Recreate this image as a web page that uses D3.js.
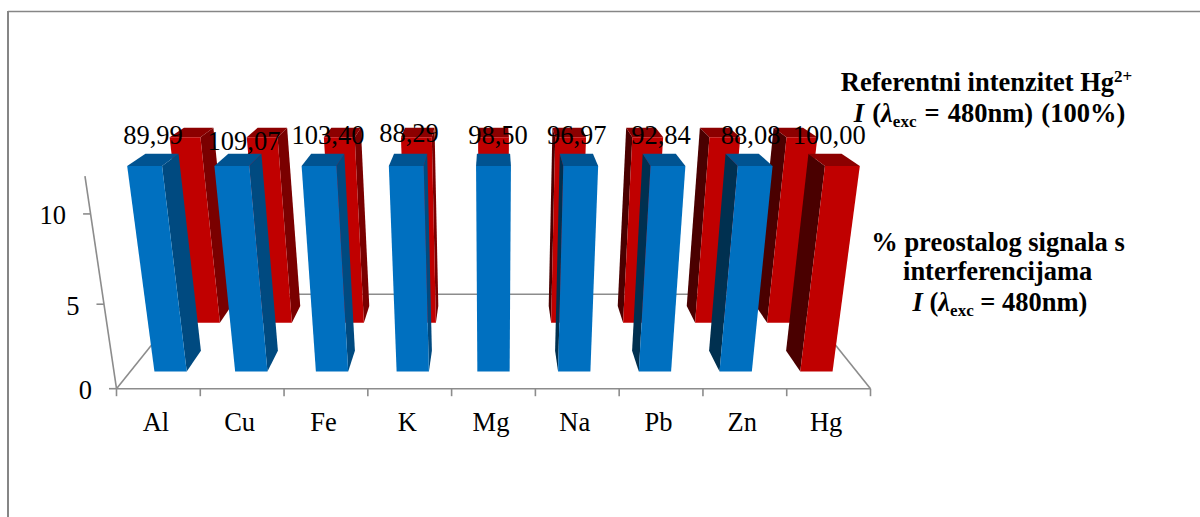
<!DOCTYPE html>
<html>
<head>
<meta charset="utf-8">
<script src="https://cdnjs.cloudflare.com/ajax/libs/d3/7.8.5/d3.min.js"></script>
<style>
html,body{margin:0;padding:0;background:#fff;overflow:hidden}
svg{display:block}
text{font-family:"Liberation Serif","Times New Roman",serif;fill:#000}
</style>
</head>
<body>
<svg id="chart" width="1200" height="517"></svg>
<script>
// ---- data ----
const categories = ["Al","Cu","Fe","K","Mg","Na","Pb","Zn","Hg"];
const signalValues = [89.99,109.07,103.40,88.29,98.50,96.97,92.84,88.08,100.00];
const referenceValues = [100,100,100,100,100,100,100,100,100];
const valueLabels = ["89,99","109,07","103,40","88,29","98,50","96,97","92,84","88,08","100,00"];
const yTicks = [0,5,10];
const referenceCategory = "Hg";
const legendReference = ["Referentni intenzitet Hg","2+"];
const legendSignal = ["% preostalog signala s","interferencijama"];

// ---- layout constants ----
const W = 1200, H = 517;
const AXIS_MAX = 12;
const VP = {x:493.5, y:-81};          // vanishing point of the floor
const FLOOR_Y = 388.7, HALF = 377;
const K_DEPTH = 0.2516, Q_H = 0.0772, RISE = 232.5;
const FONT = 26.5, SMALL = 17;
const labelNudge = [[-0.5,0.5],[5.5,6.5],[4.5,0.5],[0.5,-2],[4.5,0.5],[-1.8,0.5],[-2.5,0.5],[2.2,0.5],[-4.2,0.5]];

const x = d3.scaleBand().domain(categories).range([-HALF,HALF]).paddingInner(0.6).paddingOuter(0.3);
const xEdge = d3.scaleBand().domain(categories).range([-HALF,HALF]);
const depth = d3.scaleBand().domain(["front","back"]).range([0,1]).paddingInner(0.6).paddingOuter(0.3);
const y = d3.scaleLinear().domain([0,AXIS_MAX]).range([0,1]).clamp(true);

// perspective projection: X world px, v data value, z depth 0..1
function project(X, v, z){
  const h = y(v);
  const w = 1 + K_DEPTH*z - Q_H*h;
  return [VP.x + X/w, VP.y + ((FLOOR_Y-VP.y) - RISE*h)/w];
}
const poly = pts => "M" + pts.map(p => p[0].toFixed(2)+","+p[1].toFixed(2)).join("L") + "Z";

const svg = d3.select("#chart");

// frame
const frame = svg.append("g").attr("stroke","#868686").attr("fill","none");
frame.append("line").attr("x1",8).attr("x2",W).attr("y1",11.5).attr("y2",11.5).attr("stroke-width",1.5);
frame.append("line").attr("x1",8).attr("x2",8).attr("y1",11).attr("y2",H).attr("stroke-width",2);

// floor and axes
const axes = svg.append("g").attr("stroke","#8c8c8c").attr("stroke-width",1.6).attr("fill","none");
const seg = (a,b) => axes.append("line").attr("x1",a[0]).attr("y1",a[1]).attr("x2",b[0]).attr("y2",b[1]);
seg(project(-HALF,0,1),project(HALF,0,1));
seg(project(-HALF,0,0),project(-HALF,0,1));
seg(project(HALF,0,0),project(HALF,0,1));
seg(project(-HALF,0,0),project(HALF,0,0));
seg(project(-HALF,0,0),project(-HALF,AXIS_MAX,0));
const edges = categories.map(c => xEdge(c)).concat([HALF]);
edges.forEach(e => { const p = project(e,0,0); seg(p,[p[0],p[1]+7.5]); });
yTicks.forEach(t => { const p = project(-HALF,t,0); seg([p[0]-7.5,p[1]],p); });

// value axis labels
svg.append("g").selectAll("text").data(yTicks).join("text")
  .attr("x",d => project(-HALF,d,0)[0]-24.5)
  .attr("y",d => project(-HALF,d,0)[1]+10.5)
  .attr("text-anchor","end").attr("font-size",FONT).text(d => d);

// category labels
svg.append("g").selectAll("text").data(categories).join("text")
  .attr("x",c => project(xEdge(c)+xEdge.bandwidth()/2,0,0)[0]-2.5)
  .attr("y",431).attr("text-anchor","middle").attr("font-size",FONT).text(c => c);

const palette = {
  blue:{front:"#0070c0",top:"#005391",inner:"#004a80",outer:"#003050"},
  red:{front:"#c00000",top:"#8c0000",inner:"#7a0000",outer:"#4a0000"}
};

function drawBar(g, cat, value, row, col){
  const x0 = x(cat), x1 = x0 + x.bandwidth();
  const z0 = depth(row), z1 = z0 + depth.bandwidth();
  const c = palette[col];
  const mid = (x0+x1)/2;
  if (mid < -1) {
    g.append("path").attr("d",poly([project(x1,0,z0),project(x1,value,z0),project(x1,value,z1),project(x1,0,z1)])).attr("fill",c.inner);
  } else if (mid > 1) {
    g.append("path").attr("d",poly([project(x0,0,z0),project(x0,value,z0),project(x0,value,z1),project(x0,0,z1)])).attr("fill",c.outer);
  }
  g.append("path").attr("d",poly([project(x0,value,z0),project(x1,value,z0),project(x1,value,z1),project(x0,value,z1)])).attr("fill",c.top);
  g.append("path").attr("d",poly([project(x0,0,z0),project(x1,0,z0),project(x1,value,z0),project(x0,value,z0)])).attr("fill",c.front);
}

const backRow = svg.append("g");
categories.forEach((c,i) => drawBar(backRow,c,referenceValues[i],"back","red"));
const frontRow = svg.append("g");
categories.forEach((c,i) => drawBar(frontRow,c,signalValues[i],"front",c===referenceCategory?"red":"blue"));

// data labels
svg.append("g").selectAll("text").data(categories).join("text")
  .attr("x",(c,i) => project(x(c)+x.bandwidth()/2,signalValues[i],depth("front")+depth.bandwidth()/2)[0]+labelNudge[i][0])
  .attr("y",(c,i) => project(x(c)+x.bandwidth()/2,signalValues[i],depth("front")+depth.bandwidth()/2)[1]-16+labelNudge[i][1])
  .attr("text-anchor","middle").attr("font-size",FONT).text((c,i) => valueLabels[i]);

// legend text
const legend = svg.append("g").attr("font-weight","bold").attr("font-size",FONT).attr("text-anchor","middle");
const l1 = legend.append("text").attr("x",986.5).attr("y",90.7);
l1.append("tspan").text(legendReference[0]);
l1.append("tspan").attr("font-size",SMALL).attr("dy",-9).text(legendReference[1]);

function lambdaLine(cx, yy, suffix, wordSpacing){
  const t = legend.append("text").attr("x",cx).attr("y",yy).attr("word-spacing",wordSpacing);
  t.append("tspan").attr("font-style","italic").text("I");
  t.append("tspan").text(" (");
  t.append("tspan").attr("font-style","italic").text("λ");
  t.append("tspan").attr("font-size",SMALL).attr("dy",5).text("exc");
  t.append("tspan").attr("dy",-5).text(suffix);
}
lambdaLine(989.5,121.7," = 480nm) (100%)",1.5);
legend.append("text").attr("x",998).attr("y",250.7).text(legendSignal[0]);
legend.append("text").attr("x",997.7).attr("y",280).text(legendSignal[1]);
lambdaLine(1000,310.7," = 480nm)",0);
</script>
</body>
</html>
